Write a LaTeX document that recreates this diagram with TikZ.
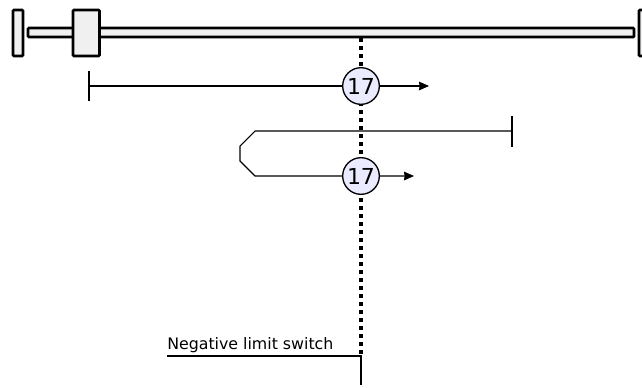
\documentclass[tikz,border=0pt]{standalone}
\usepackage{fontspec}
\setmainfont{DejaVu Sans}
\usetikzlibrary{arrows.meta}
\tikzset{x=0.75pt,y=-0.75pt,
 partbox/.style={draw=black,line width=1.9pt,fill=black!6,rounded corners=0.6pt},
 lane/.style={draw=black,line width=0.8pt},
 arrowlane/.style={lane,-{Stealth[length=7.5pt,width=6.5pt,inset=0.5pt]}},
 stepmark/.style={circle,draw=black,line width=1pt,fill=blue!8!white,minimum size=27.5pt,inner sep=0pt,font=\fontsize{16.5pt}{17pt}\selectfont},
 dotline/.style={draw=black,line width=3pt,dash pattern=on 3pt off 3pt},
 labeltext/.style={inner sep=0pt,anchor=base west,font=\fontsize{11.85pt}{14pt}\selectfont}}
\begin{document}
\begin{tikzpicture}
\useasboundingbox (0,0) rectangle (642,387);
\clip (0,0) rectangle (642,387);
\path[partbox] (28,28) rectangle (634,37);
\path[partbox] (13,10) rectangle (23,56);
\path[partbox] (73,10) rectangle (99.5,56);
\path[partbox] (639,10) rectangle (650,56);
\coordinate (dtop) at (361,38);
\coordinate (dbot) at (361,355);
\draw[dotline] (dtop) -- (dbot);
% first run
\coordinate (a0) at (89,86);
\coordinate (a1) at (429,86);
\coordinate (at) at (89,71);
\coordinate (ab) at (89,101);
\draw[lane] (at) -- (ab);
\draw[arrowlane] (a0) -- (a1);
\node[stepmark] (s1) at (361,86) {17};
% second run
\coordinate (b0) at (512,131);
\coordinate (bt) at (512,116);
\coordinate (bb) at (512,147);
\coordinate (b1) at (414,176);
\draw[lane] (bt) -- (bb);
\draw[arrowlane] (b0) -- (255,131) -- (240,146) -- (240,161) -- (255,176) -- (b1);
\node[stepmark] (s2) at (361,176) {17};
% limit switch
\coordinate (l0) at (167,356);
\coordinate (l1) at (361,356);
\coordinate (l2) at (361,385);
\draw[lane] (l0) -- (l1) -- (l2);
\node[labeltext] (lab) at (167,349) {Negative limit switch};
\end{tikzpicture}
\end{document}
